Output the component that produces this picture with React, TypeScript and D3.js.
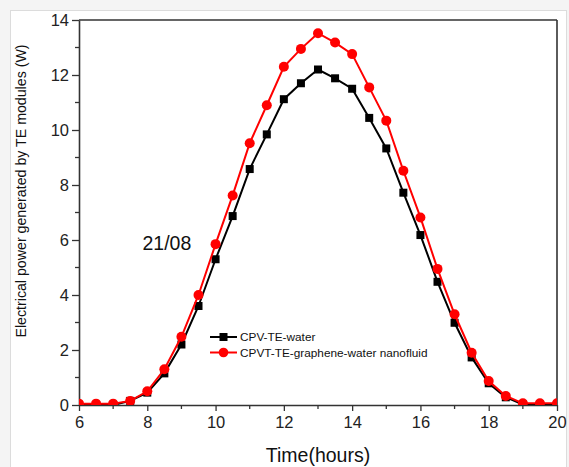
import React, { useEffect, useRef } from 'react';
import * as d3 from 'd3';

// hours, every half hour from 6 to 20
const hours = [6, 6.5, 7, 7.5, 8, 8.5, 9, 9.5, 10, 10.5, 11, 11.5, 12, 12.5, 13, 13.5, 14, 14.5, 15, 15.5, 16, 16.5, 17, 17.5, 18, 18.5, 19, 19.5, 20];

// CPV-TE-water (W)
const waterPower = [0, 0, 0, 0.15, 0.45, 1.15, 2.2, 3.6, 5.3, 6.87, 8.58, 9.84, 11.12, 11.7, 12.2, 11.88, 11.5, 10.44, 9.33, 7.72, 6.18, 4.48, 2.99, 1.73, 0.79, 0.28, 0.02, 0.02, 0.02];

// CPVT-TE-graphene-water nanofluid (W)
const nanoPower = [0.05, 0.05, 0.05, 0.15, 0.5, 1.3, 2.48, 4.0, 5.85, 7.62, 9.52, 10.9, 12.3, 12.95, 13.52, 13.18, 12.76, 11.55, 10.34, 8.52, 6.82, 4.95, 3.3, 1.9, 0.87, 0.33, 0.06, 0.06, 0.06];

const xTicks = [6, 8, 10, 12, 14, 16, 18, 20];
const yTicks = [0, 2, 4, 6, 8, 10, 12, 14];

const FONT = '"Liberation Sans", Arial, sans-serif';

function Chart() {
  const ref = useRef<SVGSVGElement | null>(null);

  useEffect(() => {
    const svg = d3.select(ref.current);
    svg.selectAll('*').remove();

    const width = 569, height = 467;
    const margin = { top: 20, right: 12, bottom: 62, left: 79 };
    const w = width - margin.left - margin.right;
    const h = height - margin.top - margin.bottom;

    // page + white panel
    svg.append('rect').attr('width', width).attr('height', height).attr('fill', '#f4f4f4');
    svg.append('rect')
      .attr('x', 10.5).attr('y', 10.5)
      .attr('width', 556).attr('height', 470)
      .attr('fill', '#fff').attr('stroke', '#dcdcdc');

    const g = svg.append('g').attr('transform', 'translate(' + margin.left + ',' + margin.top + ')');

    const x = d3.scaleLinear().domain([6, 20]).range([0, w]);
    const y = d3.scaleLinear().domain([0, 14]).range([h, 0]);

    // minor ticks
    const yMinor = d3.range(1, 14, 2);
    const xMinor = d3.range(7, 20, 2);

    g.selectAll('.ymin').data(yMinor).enter().append('line')
      .attr('x1', -4).attr('x2', 0)
      .attr('y1', d => y(d)).attr('y2', d => y(d))
      .attr('stroke', '#333').attr('stroke-width', 1.3);
    g.selectAll('.xmin').data(xMinor).enter().append('line')
      .attr('x1', d => x(d)).attr('x2', d => x(d))
      .attr('y1', h).attr('y2', h + 4)
      .attr('stroke', '#333').attr('stroke-width', 1.3);

    // axes
    const xAxis = g.append('g')
      .attr('transform', 'translate(0,' + h + ')')
      .call(d3.axisBottom(x).tickValues(xTicks).tickSize(6).tickSizeOuter(0).tickPadding(5).tickFormat(d3.format('d')));
    const yAxis = g.append('g')
      .call(d3.axisLeft(y).tickValues(yTicks).tickSize(7).tickSizeOuter(0).tickPadding(3).tickFormat(d3.format('d')));

    [xAxis, yAxis].forEach(a => {
      a.select('.domain').attr('stroke', '#333').attr('stroke-width', 1.6);
      a.selectAll('.tick line').attr('stroke', '#333').attr('stroke-width', 1.3);
      a.selectAll('.tick text')
        .attr('fill', '#222')
        .style('font-family', FONT)
        .style('font-size', '16.5px');
    });

    // top and right frame
    g.append('line').attr('x1', 0).attr('x2', w).attr('y1', 0).attr('y2', 0)
      .attr('stroke', '#333').attr('stroke-width', 1.6);
    g.append('line').attr('x1', w).attr('x2', w).attr('y1', 0).attr('y2', h)
      .attr('stroke', '#333').attr('stroke-width', 1.6);

    // clip the data to the frame
    svg.append('defs').append('clipPath').attr('id', 'plot-clip')
      .append('rect').attr('x', 0).attr('y', -10).attr('width', w).attr('height', h + 10);
    const plot = g.append('g').attr('clip-path', 'url(#plot-clip)');

    const line = d3.line<number>()
      .x((d, i) => x(hours[i]))
      .y(d => y(d));

    // black series
    plot.append('path').datum(waterPower)
      .attr('fill', 'none').attr('stroke', '#000').attr('stroke-width', 2)
      .attr('d', line);
    plot.selectAll('.sq').data(waterPower).enter().append('rect')
      .attr('x', (d, i) => x(hours[i]) - 4)
      .attr('y', d => y(d) - 4)
      .attr('width', 8).attr('height', 8)
      .attr('fill', '#000');

    // red series
    plot.append('path').datum(nanoPower)
      .attr('fill', 'none').attr('stroke', '#ff0000').attr('stroke-width', 2)
      .attr('d', line);
    plot.selectAll('.dot').data(nanoPower).enter().append('circle')
      .attr('cx', (d, i) => x(hours[i]))
      .attr('cy', d => y(d))
      .attr('r', 5)
      .attr('fill', '#ff0000');

    // annotation
    g.append('text')
      .attr('x', x(7.86)).attr('y', y(5.65))
      .text('21/08')
      .style('font-family', FONT).style('font-size', '19.5px').attr('fill', '#111');

    // legend
    const legend = [
      { label: 'CPV-TE-water', color: '#000', shape: 'square' },
      { label: 'CPVT-TE-graphene-water nanofluid', color: '#ff0000', shape: 'circle' },
    ];
    const lg = g.append('g').attr('transform', 'translate(' + (210 - margin.left) + ',' + (337 - margin.top) + ')');
    legend.forEach((item, i) => {
      const row = lg.append('g').attr('transform', 'translate(0,' + i * 15.5 + ')');
      row.append('line').attr('x1', 0).attr('x2', 27).attr('y1', 0).attr('y2', 0)
        .attr('stroke', item.color).attr('stroke-width', 2);
      if (item.shape === 'square') {
        row.append('rect').attr('x', 9.5).attr('y', -4).attr('width', 8).attr('height', 8).attr('fill', item.color);
      } else {
        row.append('circle').attr('cx', 13.5).attr('cy', 0).attr('r', 4.8).attr('fill', item.color);
      }
      row.append('text').attr('x', 30).attr('y', 4.2)
        .text(item.label)
        .style('font-family', FONT).style('font-size', '11.8px').attr('fill', '#111');
    });

    // axis labels
    svg.append('text')
      .attr('x', margin.left + w / 2).attr('y', 462)
      .attr('text-anchor', 'middle')
      .text('Time(hours)')
      .style('font-family', FONT).style('font-size', '19.5px').attr('fill', '#111');

    svg.append('text')
      .attr('text-anchor', 'middle')
      .attr('transform', 'translate(26,191) rotate(-90)')
      .text('Electrical power generated by TE modules (W)')
      .style('font-family', FONT).style('font-size', '14.2px').attr('fill', '#111');
  }, []);

  return <svg ref={ref} width={569} height={467} style={{ position: 'absolute', left: 0, top: 0, display: 'block' }} />;
}

export default function App() {
  return (
    <div>
      <Chart />
    </div>
  );
}
